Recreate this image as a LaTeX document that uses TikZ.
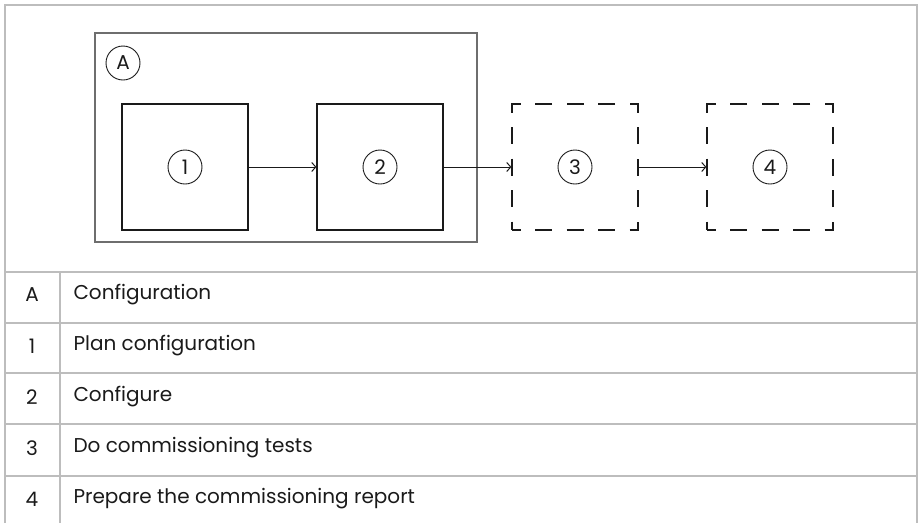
\documentclass[tikz,border=0pt]{standalone}
\usepackage{fontspec}
\setmainfont{Poppins}
\usetikzlibrary{positioning,arrows.meta,calc}

\definecolor{inkgray}{HTML}{1A1A1A}
\definecolor{framegray}{HTML}{BDBDBD}
\definecolor{groupgray}{HTML}{6E6E6E}

\begin{document}
\begin{tikzpicture}[
  x=1pt, y=-1pt,
  font=\fontsize{20}{24}\selectfont, text=inkgray,
  frame/.style={draw=framegray, line width=1.6pt},
  group/.style={draw=groupgray, line width=1.1pt},
  stepbox/.style={draw=inkgray, line width=1.2pt, minimum size=126pt, inner sep=0pt},
  laterbox/.style={stepbox, dash pattern=on 17pt off 14.5pt, dash phase=8.5pt},
  tag/.style={circle, draw=inkgray, line width=0.9pt, minimum size=34pt, inner sep=0pt},
  key/.style={anchor=center},
  item/.style={anchor=west},
  arr/.style={-{Straight Barb[length=4pt, width=9pt]}, draw=inkgray, line width=1pt}
]
\useasboundingbox (0,0) rectangle (919,523);

% ---------- Frame and legend table ----------
\draw[frame] (5,523) -- (5,5) -- (917,5) -- (917,523);
\draw[frame] (5,272) -- (917,272);
\draw[frame] (5,323) -- (917,323);
\draw[frame] (5,373) -- (917,373);
\draw[frame] (5,424) -- (917,424);
\draw[frame] (5,476) -- (917,476);
\draw[frame] (60,272) -- (60,523);

% ---------- Configuration group ----------
\draw[group] (95,33) rectangle (477,242);
\node[tag] (tagA) at (123,63) {A};

\node[stepbox] (plan)   at (185,167) {};
\node[stepbox] (config) at (380,167) {};
\node[laterbox] (tests)  at (575,167) {};
\node[laterbox] (report) at (770,167) {};

\node[tag] (tag1) at (plan)   {1};
\node[tag] (tag2) at (config) {2};
\node[tag] (tag3) at (tests)  {3};
\node[tag] (tag4) at (report) {4};

\draw[arr] (plan.east)   -- (config.west);
\draw[arr] (config.east) -- (tests.west);
\draw[arr] (tests.east)  -- (report.west);

% ---------- Legend rows ----------
\node[key]  (keyA) at (32,295) {A};
\node[item] (itemA) at (70,295) {Configuration};
\node[key]  (key1) at (32,346) {1};
\node[item] (item1) at (70,346) {Plan configuration};
\node[key]  (key2) at (32,397) {2};
\node[item] (item2) at (70,397) {Configure};
\node[key]  (key3) at (32,448) {3};
\node[item] (item3) at (70,448) {Do commissioning tests};
\node[key]  (key4) at (32,499) {4};
\node[item] (item4) at (70,499) {Prepare the commissioning report};

\end{tikzpicture}
\end{document}
